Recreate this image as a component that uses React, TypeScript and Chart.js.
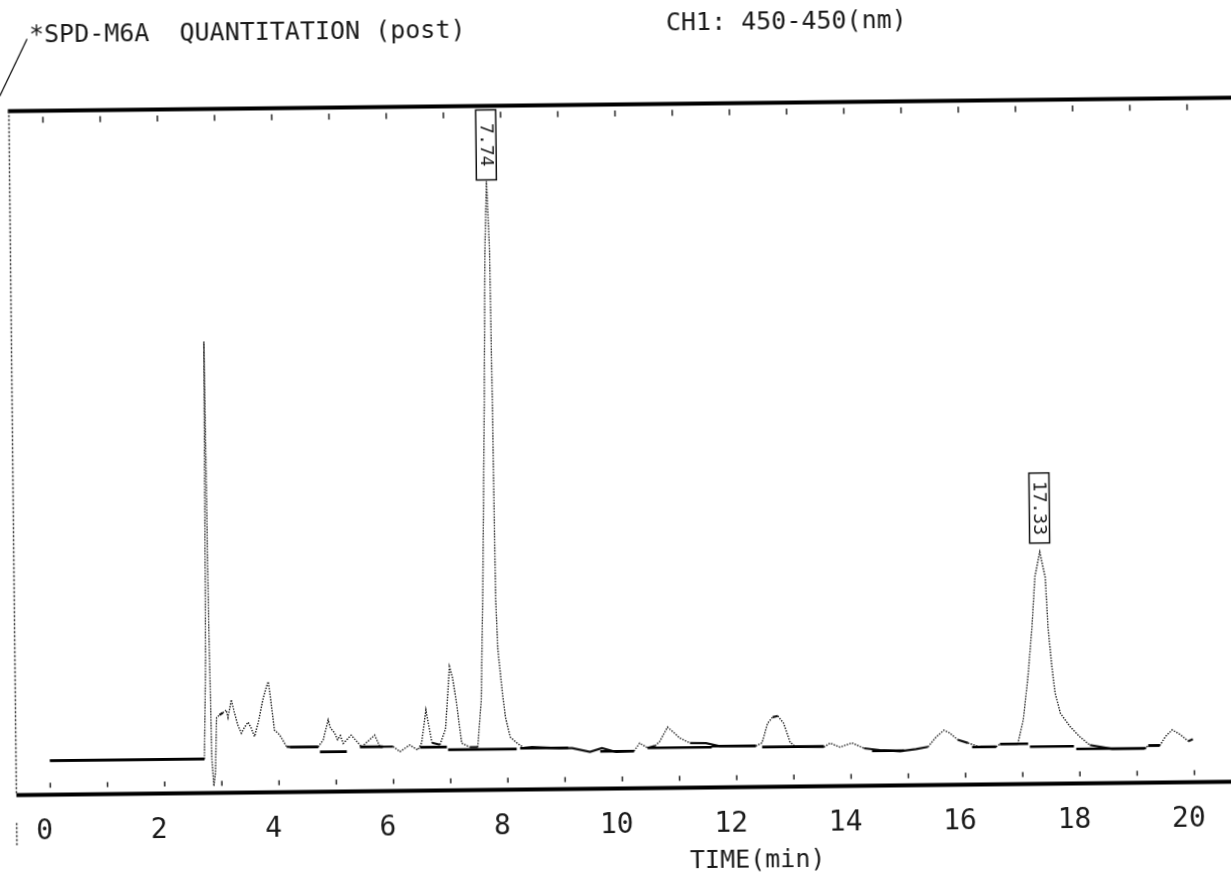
import React, { useEffect, useRef } from 'react';
import { Chart, registerables } from 'chart.js';

Chart.register(...registerables);

// Chromatogram trace (time in min, detector signal in % of full scale)
const retentionTime = [
  0.0, 1.4, 2.7, 2.74, 2.77, 2.8, 2.83, 2.86, 2.89, 2.92,
  2.97, 3.03, 3.09, 3.12, 3.18, 3.23, 3.29, 3.35, 3.41, 3.47,
  3.52, 3.58, 3.65, 3.73, 3.78, 3.83, 3.87, 3.93, 4.02, 4.14,
  4.2, 4.69, 4.78, 4.87, 4.91, 4.98, 5.03, 5.08, 5.13, 5.27,
  5.45, 5.68, 5.77, 6.0, 6.12, 6.29, 6.43, 6.5, 6.58, 6.68,
  6.82, 6.92, 7.0, 7.05, 7.11, 7.2, 7.34, 7.48, 7.55, 7.6,
  7.66, 7.7, 7.74, 7.78, 7.8, 7.82, 7.85, 7.92, 7.97, 8.05,
  8.17, 8.29, 8.43, 8.92, 9.13, 9.44, 9.65, 9.9, 10.21, 10.31,
  10.45, 10.58, 10.66, 10.8, 10.91, 11.01, 11.19, 11.47, 11.71, 12.34,
  12.45, 12.55, 12.64, 12.73, 12.83, 12.94, 13.04, 13.53, 13.64, 13.81,
  14.02, 14.23, 14.51, 14.86, 15.14, 15.35, 15.49, 15.63, 15.73, 15.87,
  16.05, 16.26, 16.54, 16.61, 16.92, 17.02, 17.11, 17.19, 17.25, 17.34,
  17.43, 17.47, 17.53, 17.58, 17.67, 17.84, 18.01, 18.18, 18.38, 18.57,
  19.13, 19.2, 19.4, 19.5, 19.62, 19.76, 19.9, 19.98,
];
const detectorSignal = [
  5.0, 4.95, 5.0, 20, 66, 25, 5, 1.0, 3, 11.0,
  11.4, 11.7, 12.1, 11.0, 13.6, 11.8, 9.9, 8.7, 9.6, 10.3,
  9.5, 8.2, 10.3, 13.5, 15.0, 16.2, 13.5, 9.1, 8.4, 6.65,
  6.6, 6.55, 7.6, 10.5, 9.3, 8.6, 7.6, 8.2, 7.05, 8.25,
  6.5, 8.2, 6.5, 6.5, 5.75, 6.7, 5.95, 7.0, 11.8, 7.0,
  6.7, 9.0, 18.1, 16.5, 13.2, 6.9, 6.3, 6.3, 13.2, 30,
  57, 79, 89, 79, 57, 28, 20.5, 14.2, 10.6, 7.7,
  6.8, 6.1, 6.2, 6.0, 6.0, 5.4, 5.95, 5.35, 5.47, 6.6,
  5.9, 6.2, 6.8, 8.9, 8.1, 7.3, 6.55, 6.5, 6.05, 6.0,
  6.45, 9.3, 10.2, 10.35, 9.3, 6.5, 5.8, 5.75, 6.3, 5.7,
  6.3, 5.5, 5.2, 5.0, 5.3, 5.6, 7.0, 8.0, 7.6, 6.6,
  6.1, 5.5, 5.5, 5.9, 5.9, 9.4, 15.7, 23.0, 30.3, 33.9,
  30.2, 22.9, 17.1, 13.3, 10.3, 8.3, 6.8, 5.6, 5.3, 5.0,
  5.0, 5.4, 5.4, 6.7, 7.7, 7.0, 6.0, 6.3,
];

// Integration baselines drawn by the integrator (start, end, level)
const baselineStart = [0.0, 4.2, 4.72, 5.42, 6.47, 6.96, 8.22, 9.62, 10.45, 11.57, 12.45, 14.37, 16.12, 16.61, 17.13, 17.94, 19.2];
const baselineEnd = [2.7, 4.69, 5.19, 5.82, 6.94, 8.16, 9.06, 10.21, 11.57, 12.34, 13.53, 14.93, 16.54, 17.1, 17.9, 19.16, 19.4];
const baselineLevel = [5.0, 6.6, 5.85, 6.5, 6.35, 5.95, 6.05, 5.45, 5.9, 6.05, 5.85, 5.1, 5.5, 5.9, 5.45, 5.05, 5.45];

// Axis
const minuteTicks = [0, 1, 2, 3, 4, 5, 6, 7, 8, 9, 10, 11, 12, 13, 14, 15, 16, 17, 18, 19, 20];
const axisTickValues = [0, 2, 4, 6, 8, 10, 12, 14, 16, 18, 20];
const axisTickLabels = ['0', '2', '4', '6', '8', '10', '12', '14', '16', '18', '20'];

// Peak retention-time labels
const peakLabelTimes = [7.74, 17.34];
const peakLabelTexts = ['7.74', '17.33'];

const headerLeft = '*SPD-M6A  QUANTITATION (post)';
const headerRight = 'CH1: 450-450(nm)';
const axisTitle = 'TIME(min)';

const MONO = '"DejaVu Sans Mono", "Liberation Mono", monospace';

const decorPlugin = {
  id: 'decor',
  afterDatasetsDraw(chart: any) {
    const { ctx, chartArea: a, scales } = chart;
    const xs = scales.x;
    const ys = scales.y;
    const W = chart.width;
    ctx.save();

    // frame lines
    ctx.setLineDash([]);
    ctx.strokeStyle = '#000';
    ctx.lineWidth = 4;
    ctx.beginPath();
    ctx.moveTo(a.left - 1, a.top);
    ctx.lineTo(W, a.top);
    ctx.stroke();
    ctx.beginPath();
    ctx.moveTo(a.left, a.bottom);
    ctx.lineTo(W, a.bottom);
    ctx.stroke();

    // left dotted border
    ctx.lineWidth = 1.5;
    ctx.strokeStyle = '#222';
    ctx.setLineDash([2, 2]);
    ctx.beginPath();
    ctx.moveTo(a.left, a.top);
    ctx.lineTo(a.left, a.bottom);
    ctx.stroke();
    ctx.beginPath();
    ctx.moveTo(a.left, a.bottom + 28);
    ctx.lineTo(a.left, a.bottom + 50);
    ctx.stroke();

    // minute ticks (inside, top and bottom)
    ctx.setLineDash([]);
    ctx.lineWidth = 1.5;
    ctx.strokeStyle = '#222';
    minuteTicks.forEach((m) => {
      const x = xs.getPixelForValue(m);
      ctx.beginPath();
      ctx.moveTo(x, a.top + 6);
      ctx.lineTo(x, a.top + 12);
      ctx.moveTo(x, a.bottom - 12);
      ctx.lineTo(x, a.bottom - 7);
      ctx.stroke();
    });

    // tick labels
    ctx.fillStyle = '#1a1a1a';
    ctx.textAlign = 'center';
    ctx.textBaseline = 'middle';
    ctx.font = `28px ${MONO}`;
    axisTickValues.forEach((v, i) => {
      ctx.fillText(axisTickLabels[i], xs.getPixelForValue(v) - 6, a.bottom + 37);
    });

    // axis title
    ctx.font = `25px ${MONO}`;
    ctx.fillText(axisTitle, xs.getPixelForValue(12.35), a.bottom + 74);

    // header
    ctx.textAlign = 'left';
    ctx.fillText(headerLeft, a.left + 21, a.top - 75.5);
    ctx.fillText(headerRight, a.left + 658, a.top - 80.5);

    // pen slash
    ctx.lineWidth = 1.3;
    ctx.strokeStyle = '#111';
    ctx.beginPath();
    ctx.moveTo(a.left + 19, a.top - 72);
    ctx.lineTo(a.left - 9, a.top - 15);
    ctx.stroke();

    // peak label boxes
    peakLabelTimes.forEach((t, i) => {
      let apex = 0;
      retentionTime.forEach((rt, j) => {
        if (Math.abs(rt - t) < 0.12) apex = Math.max(apex, detectorSignal[j]);
      });
      const cx = xs.getPixelForValue(t);
      const bw = 20;
      const bh = 70;
      let bottom = ys.getPixelForValue(apex) - 9;
      let top = bottom - bh;
      if (top < a.top + 4) {
        top = a.top + 4;
        bottom = top + bh;
      }
      ctx.fillStyle = '#fff';
      ctx.fillRect(cx - bw / 2, top, bw, bh);
      ctx.strokeStyle = '#111';
      ctx.lineWidth = 1.5;
      ctx.strokeRect(cx - bw / 2, top, bw, bh);
      ctx.save();
      ctx.translate(cx, (top + bottom) / 2);
      ctx.rotate(Math.PI / 2);
      ctx.fillStyle = '#1a1a1a';
      ctx.font = `18px ${MONO}`;
      ctx.textAlign = 'center';
      ctx.textBaseline = 'middle';
      ctx.fillText(peakLabelTexts[i], 0, 1);
      ctx.restore();
    });

    ctx.restore();
  },
};

export default function App() {
  const canvasRef = useRef<HTMLCanvasElement | null>(null);

  useEffect(() => {
    const canvas = canvasRef.current;
    if (!canvas) return;

    const tracePoints = retentionTime.map((t, i) => ({ x: t, y: detectorSignal[i] }));
    const baselinePoints: { x: number; y: number | null }[] = [];
    baselineStart.forEach((s, i) => {
      baselinePoints.push({ x: s, y: baselineLevel[i] });
      baselinePoints.push({ x: baselineEnd[i], y: baselineLevel[i] });
      baselinePoints.push({ x: baselineEnd[i], y: null });
    });

    // dot-matrix look: sloped parts dotted, flat runs solid
    const sloped = (c: any) => Math.abs(c.p1.y - c.p0.y) > 0.2 * Math.abs(c.p1.x - c.p0.x) + 1.5;

    const chart = new Chart(canvas, {
      type: 'line',
      data: {
        datasets: [
          {
            label: 'Integration baseline',
            data: baselinePoints as any,
            borderColor: '#000',
            borderWidth: 2.6,
            pointRadius: 0,
            spanGaps: false,
            tension: 0,
          },
          {
            label: 'CH1 450 nm',
            data: tracePoints,
            borderColor: '#111',
            borderWidth: 2.2,
            pointRadius: 0,
            tension: 0,
            segment: {
              borderDash: (c: any) => (sloped(c) ? [1.4, 1.4] : undefined),
              borderWidth: (c: any) => (sloped(c) ? 1.4 : undefined),
            },
          } as any,
        ],
      },
      options: {
        animation: false,
        responsive: false,
        events: [],
        layout: { padding: { left: 22.5, top: 114.5, right: 0, bottom: 98.4 } },
        scales: {
          x: { type: 'linear', min: -0.594, max: 20.88, display: false },
          y: { type: 'linear', min: 0, max: 100, display: false },
        },
        plugins: {
          legend: { display: false },
          tooltip: { enabled: false },
          title: { display: false },
        },
      },
      plugins: [decorPlugin],
    });

    return () => chart.destroy();
  }, []);

  return (
    <div
      style={{
        position: 'absolute',
        left: 0,
        top: 0,
        width: 1231,
        height: 877,
        overflow: 'hidden',
        background: '#fff',
      }}
    >
      <div
        style={{
          position: 'absolute',
          left: -10,
          top: -10,
          width: 1251,
          height: 897,
          transform: 'rotate(-0.63deg)',
          transformOrigin: '50% 50%',
        }}
      >
        <canvas
          ref={canvasRef}
          width={1251}
          height={897}
          style={{ display: 'block', width: 1251, height: 897 }}
        />
      </div>
    </div>
  );
}
